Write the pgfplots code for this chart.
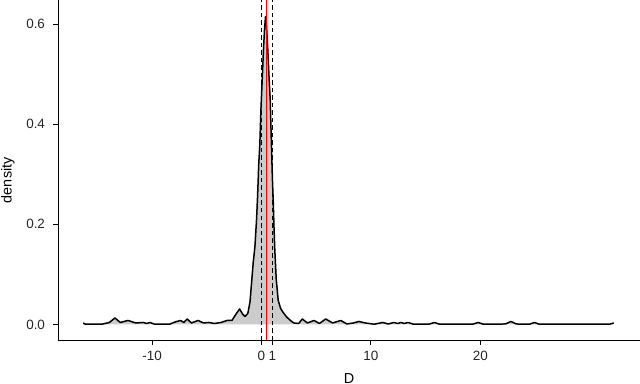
\documentclass[border=0pt]{standalone}
\usepackage{pgfplots}
\usepackage{pgfplotstable}
\pgfplotsset{compat=1.18}
\usepackage{fontspec}
\setmainfont{Liberation Sans}

\pgfplotstableread{
x y
-16.3 0.003
-16.1 0.0005
-14.6 0.0005
-13.9 0.004
-13.4 0.013
-12.9 0.004
-12.2 0.008
-11.5 0.003
-10.8 0.004
-10.5 0.002
-10.2 0.004
-9.8 0.0008
-8.4 0.0005
-7.9 0.005
-7.4 0.008
-7.1 0.004
-6.8 0.011
-6.4 0.003
-5.8 0.008
-5.3 0.003
-4.8 0.004
-4.3 0.002
-3.7 0.004
-3.15 0.008
-2.7 0.008
-2.35 0.02
-2.0 0.031
-1.7 0.02
-1.5 0.016
-1.25 0.022
-1.05 0.045
-0.9 0.085
-0.75 0.125
-0.6 0.155
-0.45 0.21
-0.35 0.26
-0.25 0.32
-0.15 0.36
-0.05 0.43
0.05 0.48
0.18 0.548
0.28 0.59
0.37 0.615
0.45 0.6
0.58 0.548
0.7 0.49
0.8 0.448
0.92 0.35
1.0 0.29
1.07 0.25
1.15 0.19
1.22 0.148
1.35 0.09
1.53 0.048
1.75 0.032
1.95 0.025
2.3 0.015
2.7 0.007
2.96 0.003
3.4 0.002
3.73 0.011
4.2 0.003
4.8 0.008
5.3 0.002
5.87 0.011
6.5 0.003
7.25 0.008
7.8 0.001
8.4 0.003
8.9 0.006
9.5 0.003
10.3 0.0005
11.07 0.004
11.6 0.001
12.1 0.004
12.45 0.002
12.75 0.004
13.05 0.002
13.4 0.004
13.9 0.0005
15.3 0.0005
15.8 0.004
16.3 0.0005
19.3 0.0005
19.8 0.004
20.3 0.0005
22.3 0.001
22.8 0.006
23.3 0.001
24.5 0.0005
24.95 0.004
25.4 0.0005
31.8 0.0005
32.2 0.003
}\dens

\begin{document}
\begin{tikzpicture}
\begin{axis}[
    at={(0,0)}, anchor=south west,
    scale only axis,
    width=582bp, height=340bp,
    xmin=-18.6, xmax=34.6,
    ymin=-0.031, ymax=0.648,
    axis lines=left,
    axis line style={-, line width=0.8pt},
    tick align=outside,
    major tick length=4.5bp,
    tick style={black, line width=0.8pt},
    xtick={-10,0,1,10,20},
    xticklabels={-10,0,1,10,20},
    ytick={0,0.2,0.4,0.6},
    yticklabels={0.0,0.2,0.4,0.6},
    tick label style={font=\fontsize{13.5}{15}\selectfont, text=black!85},
    yticklabel style={xshift=-5bp},
    xticklabel style={yshift=-3bp},
    xlabel={D}, ylabel={density},
    label style={font=\fontsize{14.5}{17}\selectfont},
    xlabel style={at={(axis description cs:0.5,-0.112)}, anchor=center},
    ylabel style={at={(axis description cs:-0.086,0.47)}, anchor=center},
    clip=false,
]
\addplot[fill=gray!40, draw=none] table[x=x, y=y] {\dens} \closedcycle;
\addplot[black, line width=1.5pt, line join=round] table[x=x, y=y] {\dens};
\addplot[black, line width=1.4pt, dash pattern=on 4.5bp off 3bp] coordinates {(0,-0.031) (0,0.648)};
\addplot[black, line width=1.4pt, dash pattern=on 4.5bp off 3bp] coordinates {(1,-0.031) (1,0.648)};
\addplot[red, line width=1.1pt] coordinates {(0.48,-0.031) (0.48,0.648)};
\end{axis}
\pgfresetboundingbox
\path (-58bp,-44bp) rectangle (582bp,340bp);
\end{tikzpicture}
\end{document}
